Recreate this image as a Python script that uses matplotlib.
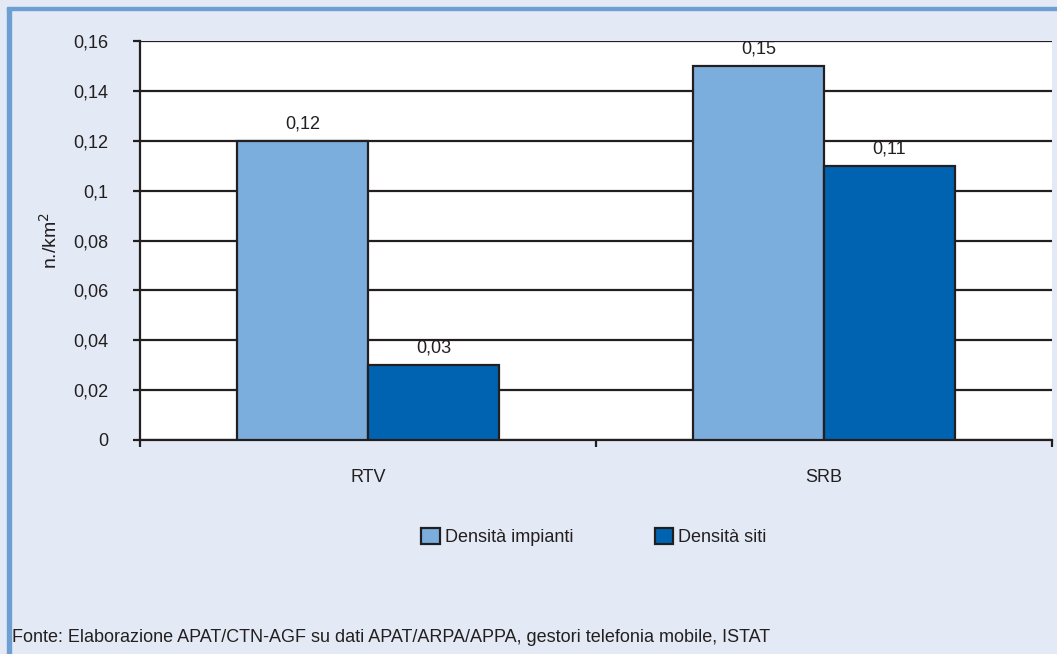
import numpy as np
import matplotlib
matplotlib.use('Agg')
import matplotlib.pyplot as plt
from matplotlib.patches import Rectangle

# data
categories = ['RTV', 'SRB']
densita_impianti = [0.12, 0.15]
densita_siti = [0.03, 0.11]
series_names = ['Densità impianti', 'Densità siti']
yticks = [0, 0.02, 0.04, 0.06, 0.08, 0.1, 0.12, 0.14, 0.16]

plt.rcParams['font.family'] = ['Liberation Sans', 'DejaVu Sans']

bg = '#E3EAF5'
light = '#7BAEDD'
dark = '#0063B1'
edge = '#231F20'
fs = 13

fig = plt.figure(figsize=(10.57, 6.54), dpi=100, facecolor=bg)
# blue border top and left
fig.patches.append(Rectangle((0.007, 0.0), 0.003, 0.988, transform=fig.transFigure,
                             color='#6E9FD3', zorder=0))
fig.patches.append(Rectangle((0.007, 0.985), 0.993, 0.004, transform=fig.transFigure,
                             color='#6E9FD3', zorder=0))

ax = fig.add_axes([140 / 1057, 1 - 440 / 654, 912 / 1057, 399 / 654])
ax.set_facecolor('white')

x = np.arange(len(categories))
w = 0.287
b1 = ax.bar(x - w / 2, densita_impianti, w, color=light, edgecolor=edge, linewidth=1.6,
            label=series_names[0], zorder=3)
b2 = ax.bar(x + w / 2, densita_siti, w, color=dark, edgecolor=edge, linewidth=1.6,
            label=series_names[1], zorder=3)

for bars in (b1, b2):
    for r in bars:
        v = r.get_height()
        ax.annotate(('%.2f' % v).replace('.', ','), (r.get_x() + r.get_width() / 2, v),
                    xytext=(0, 6), textcoords='offset points', ha='center', va='bottom',
                    fontsize=fs, color=edge)

ax.set_ylim(0, 0.16)
ax.set_yticks(yticks)
ax.set_yticklabels([('%g' % t).replace('.', ',') for t in yticks])
ax.yaxis.grid(True, color=edge, linewidth=1.6, zorder=0)
ax.set_axisbelow(True)

ax.set_xlim(-0.5, 1.5)
ax.set_xticks([-0.5, 0.5, 1.5])
ax.set_xticklabels([])
ax.set_xticks(x, minor=True)
ax.set_xticklabels(categories, minor=True)
ax.tick_params(axis='x', which='minor', length=0, pad=21, labelsize=fs, colors=edge)
ax.tick_params(axis='x', which='major', length=5, width=1.6, color=edge)
ax.tick_params(axis='y', length=5, width=1.6, color=edge, labelsize=fs, pad=18,
               labelcolor=edge)

for s in ['top', 'right']:
    ax.spines[s].set_visible(False)
for s in ['left', 'bottom']:
    ax.spines[s].set_color(edge)
    ax.spines[s].set_linewidth(1.6)

ax.set_ylabel('n./km$^2$', fontsize=14, color=edge, labelpad=9)

leg = fig.legend(handles=[b1, b2], labels=series_names, loc='center',
                 bbox_to_anchor=(594 / 1057, 1 - 537 / 654), ncol=2, frameon=False,
                 fontsize=fs, handlelength=1.0, handleheight=1.0, handletextpad=0.3,
                 columnspacing=4.5)
for t in leg.get_texts():
    t.set_color(edge)

fig.text(12 / 1057, 1 - 637 / 654, 'Fonte: Elaborazione APAT/CTN-AGF su dati APAT/ARPA/APPA, gestori telefonia mobile, ISTAT',
         fontsize=fs, color=edge, va='center', ha='left')

fig.savefig('out.png', dpi=100, facecolor=bg)
